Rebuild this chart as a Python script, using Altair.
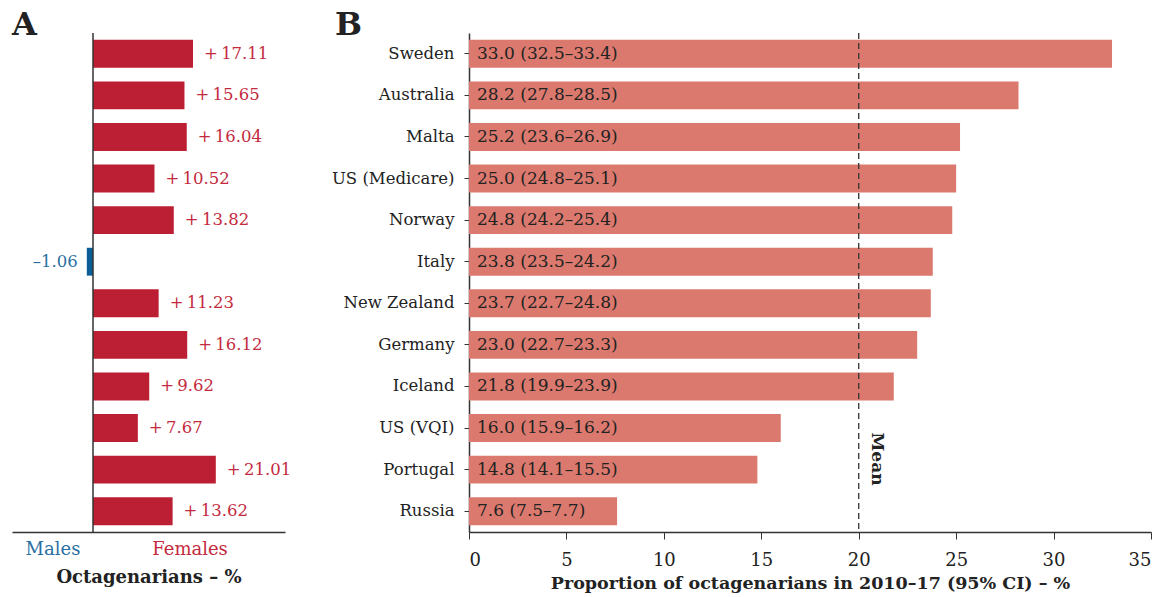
import altair as alt
import pandas as pd

countries = ["Sweden", "Australia", "Malta", "US (Medicare)", "Norway", "Italy",
             "New Zealand", "Germany", "Iceland", "US (VQI)", "Portugal", "Russia"]
proportion = [33.0, 28.2, 25.2, 25.0, 24.8, 23.8, 23.7, 23.0, 21.8, 16.0, 14.8, 7.6]
ci_low = [32.5, 27.8, 23.6, 24.8, 24.2, 23.5, 22.7, 22.7, 19.9, 15.9, 14.1, 7.5]
ci_high = [33.4, 28.5, 26.9, 25.1, 25.4, 24.2, 24.8, 23.3, 23.9, 16.2, 15.5, 7.7]
sex_diff = [17.11, 15.65, 16.04, 10.52, 13.82, -1.06, 11.23, 16.12, 9.62, 7.67, 21.01, 13.62]
mean_value = 20

FONT = "DejaVu Serif"
RED = "#BC1F34"
RED_TXT = "#C42A3E"
BLUE = "#0B5F96"
BLUE_TXT = "#2A6FA3"
SALMON = "#DB796E"
DARK = "#222222"

df = pd.DataFrame({
    "country": countries,
    "prop": proportion,
    "lo": ci_low,
    "hi": ci_high,
    "diff": sex_diff,
})
df["blabel"] = [f"{p:.1f} ({l:.1f}\u2013{h:.1f})" for p, l, h in zip(proportion, ci_low, ci_high)]
df["alabel"] = [("+\u2009" + f"{d:.2f}") if d >= 0 else ("\u2013" + f"{abs(d):.2f}") for d in sex_diff]

H = 499
ysc = alt.Scale(domain=countries, paddingInner=0.33, paddingOuter=0.165)

# ---------- Panel A ----------
baseA = alt.Chart(df)
xA = alt.X("diff:Q", scale=alt.Scale(domain=[-13.86, 32.85], nice=False, zero=False),
           axis=alt.Axis(title="Octagenarians \u2013 %", labels=False, ticks=False, grid=False,
                         domainColor="#333", domainWidth=1.5, titleFont=FONT, titleFontSize=18,
                         titleFontWeight="bold", titleColor=DARK, titlePadding=36))
yA = alt.Y("country:N", sort=countries, scale=ysc, axis=None)

barsA = baseA.mark_bar().encode(
    x=xA, y=yA,
    color=alt.condition("datum.diff >= 0", alt.value(RED), alt.value(BLUE)),
)
posLab = baseA.transform_filter("datum.diff >= 0").mark_text(
    align="left", baseline="middle", dx=11, font=FONT, fontSize=16.5, color=RED_TXT
).encode(x="diff:Q", y=alt.Y("country:N", sort=countries, scale=ysc), text="alabel:N")
negLab = baseA.transform_filter("datum.diff < 0").mark_text(
    align="right", baseline="middle", dx=-9, font=FONT, fontSize=16.5, color=BLUE_TXT
).encode(x="diff:Q", y=alt.Y("country:N", sort=countries, scale=ysc), text="alabel:N")
zeroRule = alt.Chart(pd.DataFrame({"z": [0]})).mark_rule(color="#333", strokeWidth=1.5).encode(
    x=alt.X("z:Q"))

legendDf = pd.DataFrame({"t": ["Males", "Females"], "c": [BLUE_TXT, RED_TXT], "xv": [-6.84, 16.6]})
sexText = alt.Chart(legendDf).mark_text(align="center", baseline="middle", font=FONT, fontSize=18).encode(
    x=alt.X("xv:Q"), y=alt.value(H + 18), text="t:N", color=alt.Color("c:N", scale=None))

letterA = alt.Chart(pd.DataFrame({"t": ["A"]})).mark_text(
    align="left", baseline="top", font=FONT, fontSize=32, fontWeight="bold", color=DARK
).encode(x=alt.value(0), y=alt.value(-23), text="t:N")

panelA = alt.layer(barsA, posLab, negLab, zeroRule, sexText, letterA).properties(width=273, height=H)

# ---------- Panel B ----------
baseB = alt.Chart(df)
xB = alt.X("prop:Q", scale=alt.Scale(domain=[0, 35], nice=False),
           axis=alt.Axis(title="Proportion of octagenarians in 2010\u201317 (95% CI) \u2013 %",
                         values=[0, 5, 10, 15, 20, 25, 30, 35], grid=False,
                         tickSize=7, tickColor="#333", domainColor="#333", domainWidth=1.5,
                         labelFont=FONT, labelFontSize=18, labelColor=DARK, labelPadding=12,
                         titleFont=FONT, titleFontSize=17.5, titleFontWeight="bold",
                         titleColor=DARK, titlePadding=5))
yB = alt.Y("country:N", sort=countries, scale=ysc,
           axis=alt.Axis(title=None, tickSize=5, tickColor="#333", domainColor="#333",
                         domainWidth=1.5, labelFont=FONT, labelFontSize=16.5, labelColor=DARK,
                         labelPadding=10, grid=False))
barsB = baseB.mark_bar(color=SALMON).encode(x=xB, y=yB)
labB = baseB.mark_text(align="left", baseline="middle", dx=8, font=FONT, fontSize=17, color=DARK).encode(
    x=alt.datum(0), y=alt.Y("country:N", sort=countries, scale=ysc), text="blabel:N")
meanRule = alt.Chart(pd.DataFrame({"m": [mean_value]})).mark_rule(
    color="#333", strokeWidth=1.3, strokeDash=[6, 4]).encode(x="m:Q")
meanText = alt.Chart(pd.DataFrame({"m": [mean_value], "t": ["Mean"]})).mark_text(
    angle=90, align="center", baseline="middle", dy=-18, font=FONT, fontSize=17,
    fontWeight="bold", color=DARK
).encode(x="m:Q", y=alt.value(426), text="t:N")
letterB = alt.Chart(pd.DataFrame({"t": ["B"]})).mark_text(
    align="left", baseline="top", font=FONT, fontSize=32, fontWeight="bold", color=DARK
).encode(x=alt.value(-134), y=alt.value(-23), text="t:N")

panelB = alt.layer(barsB, labB, meanRule, meanText, letterB).properties(width=682, height=H)

chart = alt.hconcat(panelA, panelB, spacing=184, bounds="flush").properties(
    padding={"left": 12, "top": 9, "right": 10, "bottom": 5}
).configure(font=FONT).configure_view(stroke=None)

chart.save("out.html", embed_options={"renderer": "svg", "actions": False})
